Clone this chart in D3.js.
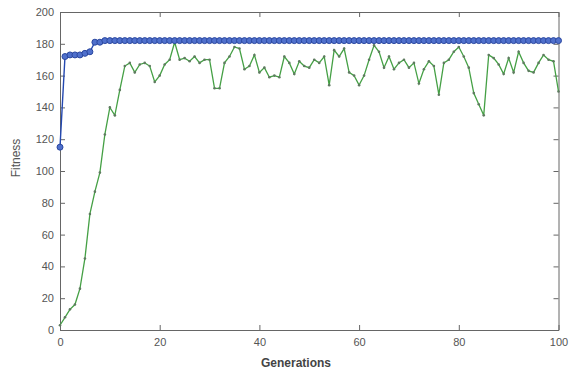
<!DOCTYPE html>
<html>
<head>
<meta charset="utf-8">
<script src="https://cdn.jsdelivr.net/npm/d3@7"></script>
<style>
  body { margin: 0; background: #fff; }
  svg { display: block; font-family: "Liberation Sans", Arial, sans-serif; }
  .tick text { fill: #555; font-size: 11px; }
  .domain, .tick line { stroke: #666; }
</style>
</head>
<body>
<svg width="569" height="373"></svg>
<script>
// generation numbers 0..100
var generations = [
  0, 1, 2, 3, 4, 5, 6, 7, 8, 9, 10, 11, 12, 13, 14, 15, 16, 17, 18, 19,
  20, 21, 22, 23, 24, 25, 26, 27, 28, 29, 30, 31, 32, 33, 34, 35, 36, 37, 38, 39,
  40, 41, 42, 43, 44, 45, 46, 47, 48, 49, 50, 51, 52, 53, 54, 55, 56, 57, 58, 59,
  60, 61, 62, 63, 64, 65, 66, 67, 68, 69, 70, 71, 72, 73, 74, 75, 76, 77, 78, 79,
  80, 81, 82, 83, 84, 85, 86, 87, 88, 89, 90, 91, 92, 93, 94, 95, 96, 97, 98, 99, 100
];

// best fitness (blue, circles)
var bestFitness = [
  115, 172, 173, 173, 173, 174, 175, 181, 181, 182, 182, 182, 182, 182, 182, 182, 182, 182, 182, 182,
  182, 182, 182, 182, 182, 182, 182, 182, 182, 182, 182, 182, 182, 182, 182, 182, 182, 182, 182, 182,
  182, 182, 182, 182, 182, 182, 182, 182, 182, 182, 182, 182, 182, 182, 182, 182, 182, 182, 182, 182,
  182, 182, 182, 182, 182, 182, 182, 182, 182, 182, 182, 182, 182, 182, 182, 182, 182, 182, 182, 182,
  182, 182, 182, 182, 182, 182, 182, 182, 182, 182, 182, 182, 182, 182, 182, 182, 182, 182, 182, 182, 182
];

// mean fitness (green)
var meanFitness = [
  3, 8, 13, 16, 26, 45, 73, 87, 99, 123, 140, 135, 151, 166, 168, 162, 167, 168, 166, 156,
  160, 167, 170, 181, 170, 171, 169, 172, 168, 170, 170, 152, 152, 168, 172, 178, 177, 164, 166, 173,
  162, 165, 159, 160, 159, 172, 168, 161, 169, 166, 165, 170, 168, 172, 154, 176, 172, 177, 162, 160,
  154, 160, 170, 179, 175, 165, 172, 164, 168, 170, 165, 168, 155, 164, 169, 166, 148, 168, 170, 175,
  178, 172, 165, 149, 142, 135, 173, 171, 167, 161, 171, 162, 175, 168, 163, 162, 168, 173, 170, 169, 150
];

var xTicks = [0, 20, 40, 60, 80, 100],
  yTicks = [0, 20, 40, 60, 80, 100, 120, 140, 160, 180, 200];

var svg = d3.select("svg"),
  margin = {top: 12, right: 10, bottom: 43, left: 60},
  width = 569 - margin.left - margin.right,
  height = 373 - margin.top - margin.bottom;

var g = svg.append("g")
  .attr("transform", "translate(" + margin.left + "," + margin.top + ")");

var x = d3.scaleLinear().domain([0, 100]).range([0, width - 0.5]),
  y = d3.scaleLinear().domain([0, 200]).range([height, 0]);

// MATLAB style box with inward ticks on all four sides
g.append("g")
  .attr("transform", "translate(0," + height + ")")
  .call(d3.axisBottom(x).tickValues(xTicks).tickSizeInner(-5).tickSizeOuter(0).tickPadding(8));
g.append("g")
  .call(d3.axisTop(x).tickValues(xTicks).tickSizeInner(-5).tickSizeOuter(0).tickFormat(""));
g.append("g")
  .call(d3.axisLeft(y).tickValues(yTicks).tickSizeInner(-5).tickSizeOuter(0).tickPadding(6));
g.append("g")
  .attr("transform", "translate(" + x(100) + ",0)")
  .call(d3.axisRight(y).tickValues(yTicks).tickSizeInner(-5).tickSizeOuter(0).tickFormat(""));

var meanData = generations.map(function(d, i) { return [d, meanFitness[i]]; }),
  bestData = generations.map(function(d, i) { return [d, bestFitness[i]]; });

var line = d3.line()
  .x(function(d) { return x(d[0]); })
  .y(function(d) { return y(d[1]); });

// green mean curve with small dots
g.append("path")
  .datum(meanData)
  .attr("fill", "none")
  .attr("stroke", "#45a045")
  .attr("stroke-width", 1.3)
  .attr("d", line);

g.append("g")
  .selectAll("circle")
  .data(meanData)
  .enter().append("circle")
    .attr("cx", function(d) { return x(d[0]); })
    .attr("cy", function(d) { return y(d[1]); })
    .attr("r", 1.3)
    .attr("fill", "#5f7a60");

// blue best curve with circle markers
g.append("path")
  .datum(bestData)
  .attr("fill", "none")
  .attr("stroke", "#2448b0")
  .attr("stroke-width", 1.4)
  .attr("d", line);

g.append("g")
  .selectAll("circle")
  .data(bestData)
  .enter().append("circle")
    .attr("cx", function(d) { return x(d[0]); })
    .attr("cy", function(d) { return y(d[1]); })
    .attr("r", 3)
    .attr("fill", "#4f70cc")
    .attr("stroke", "#2a47a0")
    .attr("stroke-width", 1);

// axis labels
svg.append("text")
  .attr("x", 296)
  .attr("y", 367)
  .attr("text-anchor", "middle")
  .attr("font-size", 12)
  .attr("font-weight", "bold")
  .attr("fill", "#444")
  .text("Generations");

svg.append("text")
  .attr("transform", "translate(20,158) rotate(-90)")
  .attr("text-anchor", "middle")
  .attr("font-size", 12)
  .attr("fill", "#555")
  .text("Fitness");
</script>
</body>
</html>
